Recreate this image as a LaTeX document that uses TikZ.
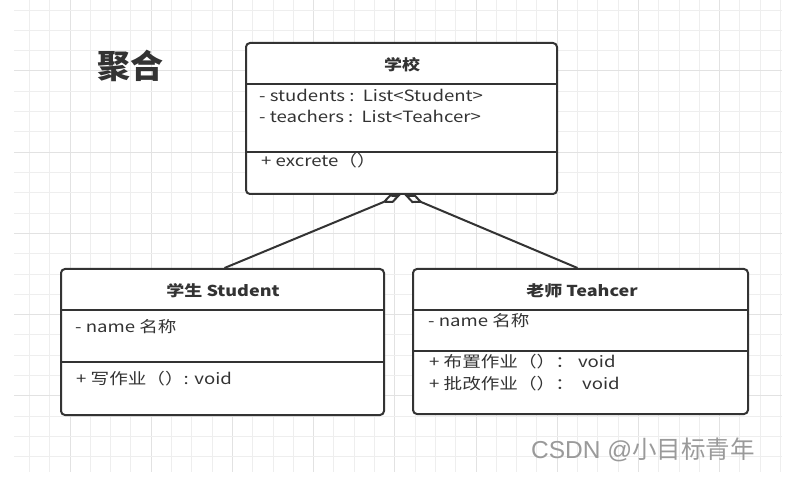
\documentclass[tikz,border=0pt]{standalone}
\usepackage{fontspec}
\setmainfont[FakeStretch=1.2]{Noto Sans CJK SC}
\newfontfamily\plaincjk{Noto Sans CJK SC}
\newfontfamily\wmlatin{Liberation Sans}
\usetikzlibrary{arrows.meta}
\definecolor{ink}{HTML}{333333}
\definecolor{gridminor}{HTML}{EEEEEE}
\definecolor{gridmajor}{HTML}{E2E2E2}
\definecolor{wm}{HTML}{9A9A9A}
\tikzset{
  umlbox/.style={draw=ink, line width=2pt, rounded corners=4pt, fill=white, inner sep=0pt},
  divider/.style={draw=ink, line width=2pt},
  title/.style={anchor=base, inner sep=0pt, text=ink, font=\fontsize{15}{18}\selectfont\bfseries},
  member/.style={anchor=base west, inner sep=0pt, text=ink, font=\fontsize{15.5}{18}\selectfont},
  agg/.style={draw=ink, line width=2pt, -{Diamond[open, length=20pt, width=9pt, line width=2pt]}},
}
\begin{document}
\begin{tikzpicture}[x=1pt, y=-1pt]
\useasboundingbox (0,0) rectangle (790,489);
\fill[white] (0,0) rectangle (790,489);
% grid
\foreach \k in {-2,...,35} {
  \pgfmathsetmacro{\gx}{70+20.3*\k}
  \pgfmathtruncatemacro{\m}{mod(\k+400,4)}
  \ifnum\m=0 \draw[gridmajor, line width=1pt] (\gx,0) -- (\gx,472);
  \else \draw[gridminor, line width=1pt] (\gx,0) -- (\gx,472); \fi
}
\foreach \k in {-3,...,19} {
  \pgfmathsetmacro{\gy}{71+20.3*\k}
  \pgfmathtruncatemacro{\m}{mod(\k+400,4)}
  \ifnum\m=0 \draw[gridmajor, line width=1pt] (14,\gy) -- (782,\gy);
  \else \draw[gridminor, line width=1pt] (14,\gy) -- (782,\gy); \fi
}

% heading
\node[anchor=base west, inner sep=0pt, text=ink, font=\plaincjk\fontsize{33}{38}\selectfont\bfseries] (head) at (97,79) {聚合};

% school
\node[umlbox, minimum width=311pt, minimum height=151pt] (school) at (401.5,118.5) {};
\draw[divider] (school.west |- 0,84) -- (school.east |- 0,84);
\draw[divider] (school.west |- 0,152) -- (school.east |- 0,152);
\node[title] (schoolT) at (402,71) {学校};
\node[member] (s1) at (259,102) {- students :\ \ List<Student>};
\node[member] (s2) at (259,122.5) {- teachers :\ \ List<Teahcer>};
\node[member] (s3) at (261,167) {+ excrete（）};

% student
\node[umlbox, minimum width=323pt, minimum height=146pt] (stu) at (222.5,342) {};
\draw[divider] (stu.west |- 0,310) -- (stu.east |- 0,310);
\draw[divider] (stu.west |- 0,362) -- (stu.east |- 0,362);
\node[title] (stuT) at (223,296) {学生 Student};
\node[member] (t1) at (75,332) {- name 名称};
\node[member] (t2) at (76,384) {+ 写作业（）: void};

% teacher
\node[umlbox, minimum width=335pt, minimum height=145pt] (tea) at (580.5,341.5) {};
\draw[divider] (tea.west |- 0,310) -- (tea.east |- 0,310);
\draw[divider] (tea.west |- 0,351) -- (tea.east |- 0,351);
\node[title] (teaT) at (582,296) {老师 Teahcer};
\node[member] (r1) at (428,326) {- name 名称};
\node[member] (r2) at (429,367) {+ 布置作业（）： void};
\node[member] (r3) at (429,389) {+ 批改作业（）：\ \ void};

% aggregation connectors
\draw[agg] ([xshift=2pt]stu.north) -- ([xshift=-1pt]school.south);
\draw[agg] ([xshift=-3pt]tea.north) -- ([xshift=3pt]school.south);

% watermark
\node[anchor=base west, inner sep=0pt, text=wm, font=\plaincjk\fontsize{24.5}{28}\selectfont] (wm) at (531,458) {{\wmlatin CSDN @}小目标青年};
\end{tikzpicture}
\end{document}
